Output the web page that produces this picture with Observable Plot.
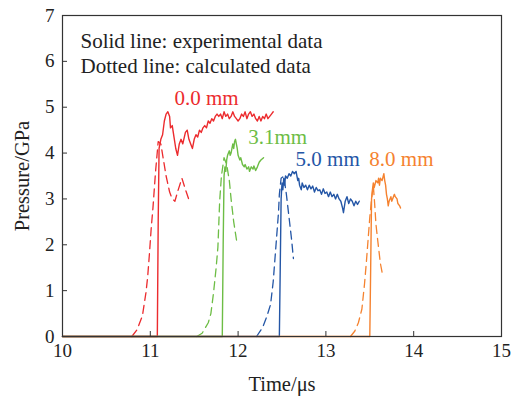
<!DOCTYPE html>
<html>
<head>
<meta charset="utf-8">
<script src="https://cdn.jsdelivr.net/npm/d3@7"></script>
<script src="https://cdn.jsdelivr.net/npm/@observablehq/plot@0.6"></script>
<style>
  html, body { margin: 0; padding: 0; background: #fff; }
</style>
</head>
<body>
<div id="chart"></div>
<script>
// ---- Data (time in µs, pressure in GPa) ----
const seriesNames = ["0.0 mm", "3.1mm", "5.0 mm", "8.0 mm"];
const seriesColors = ["#ec2b2e", "#6dbd45", "#2456a6", "#f5822f"];

// Experimental (solid) curves
const exp00 = [[10,0],[11.08,0],[11.09,2.5],[11.10,4.1],[11.12,4.3],[11.14,4.4],[11.16,4.7],[11.18,4.85],[11.20,4.9],[11.22,4.8],[11.23,4.55],[11.25,4.6],[11.27,4.35],[11.29,4.1],[11.31,3.95],[11.33,4.2],[11.35,4.3],[11.37,4.2],[11.40,4.45],[11.42,4.5],[11.44,4.3],[11.46,4.2],[11.48,4.1],[11.50,4.3],[11.52,4.4],[11.54,4.35],[11.56,4.5],[11.58,4.45],[11.60,4.55],[11.62,4.6],[11.64,4.55],[11.66,4.7],[11.68,4.65],[11.70,4.75],[11.72,4.7],[11.74,4.8],[11.76,4.85],[11.78,4.8],[11.80,4.85],[11.82,4.75],[11.84,4.9],[11.86,4.8],[11.88,4.85],[11.90,4.75],[11.92,4.8],[11.94,4.9],[11.96,4.8],[11.98,4.75],[12.00,4.7],[12.02,4.75],[12.04,4.85],[12.06,4.8],[12.08,4.9],[12.10,4.75],[12.12,4.85],[12.14,4.9],[12.16,4.8],[12.18,4.85],[12.20,4.75],[12.22,4.7],[12.24,4.8],[12.26,4.7],[12.28,4.8],[12.30,4.75],[12.32,4.85],[12.34,4.75],[12.36,4.8],[12.38,4.85],[12.40,4.9]];
const exp31 = [[10,0],[11.82,0],[11.83,2.0],[11.84,3.5],[11.85,3.7],[11.86,3.6],[11.87,3.85],[11.88,3.95],[11.90,4.05],[11.91,3.95],[11.92,4.0],[11.94,4.2],[11.95,4.1],[11.96,4.25],[11.97,4.3],[11.98,4.2],[11.99,4.1],[12.00,3.95],[12.02,3.85],[12.03,3.9],[12.05,3.75],[12.07,3.7],[12.08,3.75],[12.10,3.65],[12.12,3.7],[12.13,3.6],[12.15,3.7],[12.17,3.65],[12.18,3.72],[12.20,3.62],[12.22,3.7],[12.24,3.8],[12.26,3.85],[12.29,3.9]];
const exp50 = [[10,0],[12.47,0],[12.48,1.5],[12.49,3.0],[12.50,3.35],[12.51,3.2],[12.52,3.45],[12.53,3.3],[12.54,3.5],[12.56,3.45],[12.58,3.55],[12.60,3.5],[12.62,3.6],[12.64,3.55],[12.66,3.6],[12.68,3.4],[12.69,3.45],[12.70,3.3],[12.72,3.2],[12.73,3.35],[12.75,3.25],[12.77,3.3],[12.79,3.2],[12.81,3.3],[12.83,3.22],[12.85,3.28],[12.87,3.15],[12.89,3.25],[12.91,3.18],[12.93,3.2],[12.95,3.1],[12.97,3.22],[12.99,3.12],[13.01,3.15],[13.03,3.05],[13.05,3.15],[13.07,3.05],[13.09,3.1],[13.11,3.0],[13.13,3.1],[13.15,3.0],[13.17,2.95],[13.19,2.8],[13.20,2.7],[13.22,2.95],[13.24,3.05],[13.26,2.9],[13.28,3.0],[13.30,2.95],[13.32,2.85],[13.34,2.95],[13.36,2.88],[13.38,2.95]];
const exp80 = [[10,0],[13.50,0],[13.51,1.5],[13.52,3.0],[13.53,3.2],[13.54,3.35],[13.55,3.25],[13.57,3.4],[13.59,3.35],[13.60,3.45],[13.61,3.3],[13.62,3.45],[13.64,3.4],[13.66,3.55],[13.67,3.4],[13.68,3.3],[13.69,3.1],[13.70,3.0],[13.71,2.85],[13.72,2.95],[13.74,3.05],[13.75,2.95],[13.76,3.0],[13.78,3.1],[13.79,3.05],[13.81,3.0],[13.82,2.9],[13.84,2.85],[13.85,2.8]];

// Calculated (dashed) curves
const calc00 = [[10.79,0],[10.85,0.15],[10.91,0.45],[10.95,0.95],[10.97,1.3],[10.99,1.8],[11.01,2.35],[11.03,2.8],[11.06,3.6],[11.09,4.25],[11.12,4.2],[11.15,3.85],[11.18,3.5],[11.22,3.15],[11.25,3.0],[11.28,2.95],[11.31,3.15],[11.36,3.45],[11.41,3.15],[11.44,2.98]];
const calc31 = [[11.53,0],[11.59,0.07],[11.66,0.3],[11.69,0.5],[11.72,0.95],[11.75,1.5],[11.77,1.95],[11.78,2.45],[11.79,2.95],[11.81,3.5],[11.84,3.9],[11.87,3.75],[11.90,3.4],[11.92,3.0],[11.95,2.5],[11.99,2.0]];
const calc50 = [[12.21,0],[12.28,0.2],[12.33,0.45],[12.37,0.7],[12.40,1.2],[12.42,1.7],[12.44,2.2],[12.46,2.7],[12.47,3.1],[12.49,3.45],[12.52,3.5],[12.55,3.1],[12.58,2.6],[12.61,2.1],[12.63,1.7]];
const calc80 = [[13.28,0],[13.33,0.12],[13.37,0.3],[13.41,0.6],[13.44,1.15],[13.46,1.6],[13.48,2.1],[13.50,2.6],[13.52,3.0],[13.54,3.3],[13.555,2.9],[13.57,2.45],[13.59,2.1],[13.62,1.6],[13.64,1.4]];

// Label anchors (data coordinates)
const labelTime = [11.64, 12.45, 13.02, 13.86];
const labelPressure = [5.2, 4.34, 3.86, 3.86];

const xTicks = [10, 11, 12, 13, 14, 15];
const yTicks = [0, 1, 2, 3, 4, 5, 6, 7];
const legendLines = ["Solid line: experimental data", "Dotted line: calculated data"];

// ---- Build tables ----
const expSets = [exp00, exp31, exp50, exp80];
const calcSets = [calc00, calc31, calc50, calc80];
const expData = expSets.flatMap((arr, i) => arr.map(([t, p]) => ({t, p, s: seriesNames[i]})));
const calcData = calcSets.flatMap((arr, i) => arr.map(([t, p]) => ({t, p, s: seriesNames[i]})));
const labels = seriesNames.map((s, i) => ({s, t: labelTime[i], p: labelPressure[i]}));

const serif = "'Liberation Serif', 'Times New Roman', Times, serif";

const chart = Plot.plot({
  width: 511,
  height: 397,
  marginLeft: 62,
  marginRight: 10,
  marginTop: 15,
  marginBottom: 61,
  style: {fontFamily: serif, fontSize: "19px", color: "#222", background: "#fff"},
  x: {domain: [10, 15]},
  y: {domain: [0, 7]},
  color: {domain: seriesNames, range: seriesColors},
  marks: [
    Plot.line(calcData, {x: "t", y: "p", z: "s", stroke: "s", strokeWidth: 1.3, strokeDasharray: "8,5"}),
    Plot.line(expData, {x: "t", y: "p", z: "s", stroke: "s", strokeWidth: 1.4}),
    Plot.text(labels, {x: "t", y: "p", text: "s", fill: "s", fontSize: 21, fontFamily: serif}),
    Plot.text([legendLines[0]], {text: d => d, frameAnchor: "top-left", dx: 18, dy: 26, lineAnchor: "middle", textAnchor: "start", fontSize: 21, fontFamily: serif, fill: "#222"}),
    Plot.text([legendLines[1]], {text: d => d, frameAnchor: "top-left", dx: 18, dy: 51, lineAnchor: "middle", textAnchor: "start", fontSize: 21, fontFamily: serif, fill: "#222"}),
    Plot.axisX(xTicks, {tickSize: -5, text: null, label: null, stroke: "#333"}),
    Plot.axisX(xTicks, {tickSize: 0, tickPadding: 7, tickFormat: d => String(d), label: null, fill: "#222", fontFamily: serif}),
    Plot.axisX({tickSize: 0, ticks: [], label: "Time/μs", labelAnchor: "center", labelArrow: "none", labelOffset: 54, fontSize: 20.5, fill: "#222", fontFamily: serif}),
    Plot.axisY(yTicks, {tickSize: -5, text: null, label: null, stroke: "#333"}),
    Plot.axisY(yTicks, {tickSize: 0, tickPadding: 8, label: null, fill: "#222", fontFamily: serif}),
    Plot.axisY({tickSize: 0, ticks: [], label: "Pressure/GPa", labelAnchor: "center", labelArrow: "none", labelOffset: 48, fontSize: 20.5, fill: "#222", fontFamily: serif}),
    Plot.frame({stroke: "#333", strokeWidth: 1.2})
  ]
});
document.getElementById("chart").appendChild(chart);
</script>
</body>
</html>
